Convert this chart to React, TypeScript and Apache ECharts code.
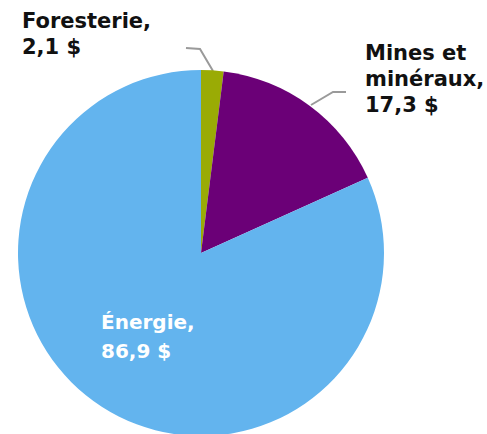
import React, { useEffect, useRef } from "react";
import * as echarts from "echarts";

const categories = ["Foresterie", "Mines et\nminéraux", "Énergie"];
const values = [2.1, 17.3, 86.9];
const valueLabels = ["2,1 $", "17,3 $", "86,9 $"];
const colors = ["#9aab05", "#6b0077", "#63b4ee"];

export default function App() {
  const ref = useRef<HTMLDivElement>(null);
  useEffect(() => {
    const chart = echarts.init(ref.current!, null, { renderer: "svg" });
    const font = "'DejaVu Sans', Verdana, sans-serif";
    chart.setOption({
      animation: false,
      backgroundColor: "#ffffff",
      series: [
        {
          type: "pie",
          center: [201, 253],
          radius: 183,
          startAngle: 90,
          clockwise: true,
          avoidLabelOverlap: false,
          itemStyle: { borderWidth: 0 },
          label: {
            show: true,
            position: "outside",
            fontFamily: font,
            fontWeight: "bold",
            fontSize: 21,
            lineHeight: 26,
            color: "#111111",
            align: "left",
            formatter: (p: any) => `${categories[p.dataIndex]},\n${valueLabels[p.dataIndex]}`,
          },
          labelLine: {
            show: true,
            lineStyle: { color: "#9a9a9a", width: 2 },
          },
          labelLayout: (p: any) => {
            if (p.dataIndex === 0) {
              return {
                x: 22,
                y: 8,
                align: "left",
                verticalAlign: "top",
                labelLinePoints: [
                  [213, 71],
                  [200, 49],
                  [186, 48],
                ],
              };
            }
            if (p.dataIndex === 1) {
              return {
                x: 365,
                y: 40,
                align: "left",
                verticalAlign: "top",
                labelLinePoints: [
                  [311, 105],
                  [333, 92],
                  [346, 92],
                ],
              };
            }
            return { x: 101, y: 307, align: "left", verticalAlign: "top" };
          },
          data: values.map((v, i) => ({
            name: categories[i],
            value: v,
            itemStyle: { color: colors[i] },
            label:
              i === 2
                ? { color: "#ffffff", position: "inside", fontSize: 20, lineHeight: 29 }
                : undefined,
            labelLine: i === 2 ? { show: false } : undefined,
          })),
        },
      ],
    });
    return () => chart.dispose();
  }, []);
  return (
    <div
      ref={ref}
      style={{ position: "fixed", left: 0, top: 0, width: 487, height: 434 }}
    />
  );
}
